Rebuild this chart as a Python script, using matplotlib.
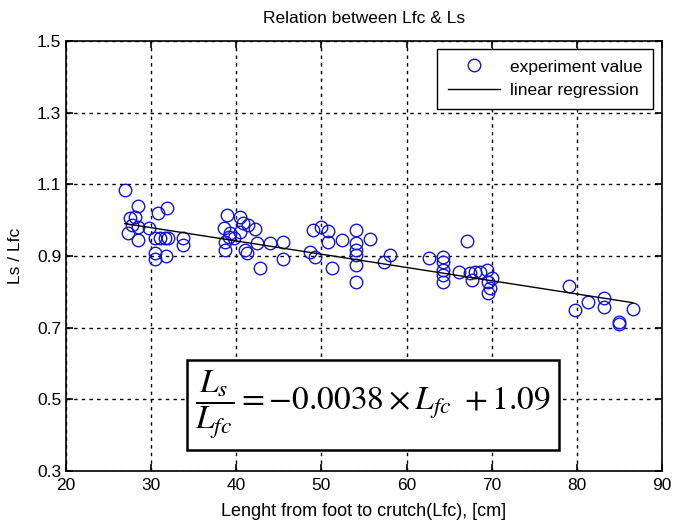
import matplotlib
matplotlib.use("Agg")
import matplotlib.pyplot as plt
import numpy as np

# Data (Lfc [cm], Ls/Lfc)
lfc = [26.9, 28.5, 30.8, 31.9, 27.5, 28.1, 27.7, 28.5, 27.3, 28.5,
       30.5, 31.0, 31.6, 32.0, 29.7, 33.8, 33.8, 30.4, 30.4, 31.8,
       38.9, 40.4, 40.8, 41.4, 38.5, 42.2, 39.3, 39.1, 39.7, 40.4,
       38.7, 42.4, 44.0, 45.5, 38.7, 41.0, 41.2, 45.5, 42.8,
       49.0, 50.0, 50.8, 50.8, 52.4, 54.1, 55.7, 54.1, 54.1, 54.1,
       48.7, 49.2, 54.1, 51.2, 54.1, 57.4, 58.0,
       67.1, 62.6, 64.3, 64.3, 64.3, 64.3, 64.3, 66.1, 67.5, 68.0,
       68.6, 67.7, 69.4, 69.6, 69.8, 69.6, 70.0,
       79.1, 79.8, 81.3, 83.2, 83.2, 84.9, 84.9, 86.6]
ratio = [1.084, 1.040, 1.019, 1.035, 1.007, 1.010, 0.986, 0.982, 0.963, 0.945,
         0.951, 0.951, 0.951, 0.951, 0.979, 0.949, 0.931, 0.907, 0.893, 0.900,
         1.014, 1.010, 0.991, 0.986, 0.977, 0.974, 0.963, 0.954, 0.949, 0.968,
         0.940, 0.935, 0.935, 0.940, 0.917, 0.917, 0.907, 0.893, 0.866,
         0.972, 0.982, 0.970, 0.940, 0.945, 0.972, 0.947, 0.935, 0.917, 0.903,
         0.910, 0.898, 0.875, 0.866, 0.828, 0.884, 0.904,
         0.942, 0.895, 0.898, 0.884, 0.861, 0.847, 0.828, 0.856, 0.852, 0.856,
         0.856, 0.833, 0.861, 0.828, 0.810, 0.796, 0.838,
         0.816, 0.749, 0.772, 0.782, 0.757, 0.717, 0.710, 0.751]

# Regression line as drawn
slope = -0.0037
intercept = 1.09

xticks = [20, 30, 40, 50, 60, 70, 80, 90]
yticks = [0.3, 0.5, 0.7, 0.9, 1.1, 1.3, 1.5]

plt.rcParams['font.family'] = ['Liberation Sans', 'DejaVu Sans']
plt.rcParams['mathtext.fontset'] = 'stix'

fig = plt.figure(figsize=(6.83, 5.31), dpi=100)
ax = fig.add_axes([66/683, 1-471/531, (662-66)/683, (471-41)/531])

ax.plot(lfc, ratio, 'o', mfc='none', mec='#1414d2', mew=1.0, ms=9,
        label='experiment value', zorder=3)
xl = np.array([min(lfc), max(lfc)])
ax.plot(xl, slope*xl + intercept, '-', color='black', lw=1.0,
        label='linear regression', zorder=4)

ax.set_xlim(20, 90)
ax.set_ylim(0.3, 1.5)
ax.set_xticks(xticks)
ax.set_yticks(yticks)
ax.set_xticklabels([str(t) for t in xticks])
ax.set_yticklabels(['%.1f' % t for t in yticks])
ax.tick_params(direction='in', top=True, right=True, length=5, labelsize=12.5,
               width=1.2)
ax.tick_params(axis='x', pad=5)
ax.grid(True, color='black', linestyle=(0, (2.5, 3)), linewidth=1.0)
for s in ax.spines.values():
    s.set_linewidth(1.2)

ax.set_title('Relation between Lfc & Ls', fontsize=12.5, pad=13)
ax.set_xlabel('Lenght from foot to crutch(Lfc), [cm]', fontsize=13, labelpad=7)
ax.set_ylabel('Ls / Lfc', fontsize=12.5, labelpad=10)

leg = ax.legend(loc='upper right', fontsize=12.5, frameon=True, fancybox=False,
                edgecolor='black', framealpha=1, borderpad=0.6,
                handlelength=3.0, handletextpad=0.6, labelspacing=0.5,
                markerfirst=True, borderaxespad=0,
                bbox_to_anchor=((653-66)/596, 1-(49-41)/430))
leg.get_frame().set_linewidth(1.0)

ax.text((373-66)/596, 1-(405-41)/430,
        r'$\dfrac{L_s}{L_{fc}} = -0.0038\times L_{fc}\ +1.09$',
        transform=ax.transAxes, ha='center', va='center', fontsize=24,
        zorder=6,
        bbox=dict(boxstyle='square,pad=0.25', fc='white', ec='black', lw=1.8))

fig.savefig('out.png', dpi=100)
